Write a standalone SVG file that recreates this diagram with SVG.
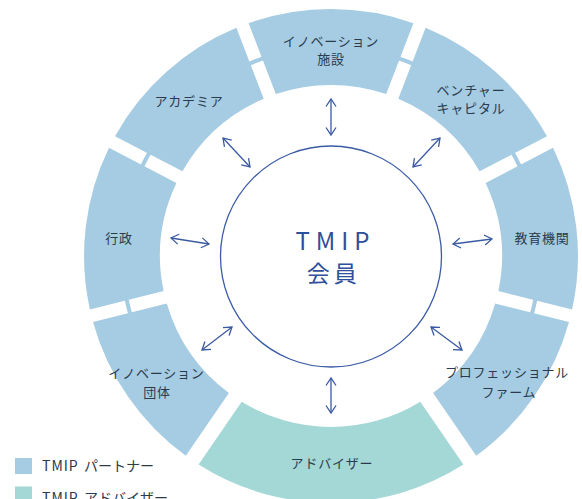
<svg xmlns="http://www.w3.org/2000/svg" width="582" height="499" viewBox="0 0 582 499">
<style>
.seg{fill:#a5cce2}
.adv{fill:#a3d8d7}
.lbl{font-family:"Noto Sans CJK JP","Noto Sans",sans-serif;font-size:13px;fill:#2b3a4c;text-anchor:middle;letter-spacing:0.8px}
.ctr{font-family:"Noto Sans CJK JP","Noto Sans",sans-serif;fill:#2f4f9c;text-anchor:middle}
.arr{fill:none;stroke:#3b5aa3;stroke-width:1.3;marker-start:url(#ah);marker-end:url(#ah)}
.leg{font-family:"Noto Sans CJK JP","Noto Sans",sans-serif;font-size:14px;fill:#2b3a4c}
</style>
<defs>
<marker id="ah" viewBox="0 0 10 10" refX="7.5" refY="5" markerWidth="10" markerHeight="10" markerUnits="userSpaceOnUse" orient="auto-start-reverse" overflow="visible">
<path d="M0,0 L7.5,5 L0,10" fill="none" stroke="#3b5aa3" stroke-width="1.3"/>
</marker>
</defs>
<rect width="582" height="499" fill="#ffffff"/>
<g id="ring-link">
<path d="M159.8 375.9 A209 209 0 1 1 502.2 375.9" fill="none" stroke="#a5cce2" stroke-width="4"/>
</g>
<g id="node-shisetsu">
<path class="seg" d="M248.6 23.2 A247 247 0 0 1 413.4 23.2 L386.2 94.1 A171 171 0 0 0 275.8 94.1 Z"/>
<text class="lbl" x="331" y="45.8">イノベーション</text>
<text class="lbl" x="331" y="64.2">施設</text>
</g>
<g id="node-venture">
<path class="seg" d="M425.6 27.8 A247 247 0 0 1 547.0 136.2 L479.6 171.3 A171 171 0 0 0 398.3 98.8 Z"/>
<text class="lbl" x="471" y="95">ベンチャー</text>
<text class="lbl" x="471" y="112.5">キャピタル</text>
</g>
<g id="node-kyoiku">
<path class="seg" d="M553.0 147.7 A247 247 0 0 1 572.1 309.4 L498.4 291.0 A171 171 0 0 0 485.6 182.9 Z"/>
<text class="lbl" x="542" y="242.5">教育機関</text>
</g>
<g id="node-professional">
<path class="seg" d="M569.0 322.0 A247 247 0 0 1 476.2 455.8 L433.1 393.1 A171 171 0 0 0 495.2 303.6 Z"/>
<text class="lbl" x="507" y="377">プロフェッショナル</text>
<text class="lbl" x="509" y="396.7">ファーム</text>
</g>
<g id="node-advisor">
<path class="adv" d="M463.4 464.5 A247 247 0 0 1 198.6 464.5 L241.7 401.8 A171 171 0 0 0 420.3 401.8 Z"/>
<text class="lbl" x="332" y="468.3">アドバイザー</text>
</g>
<g id="node-dantai">
<path class="seg" d="M185.8 455.8 A247 247 0 0 1 93.0 322.0 L166.8 303.6 A171 171 0 0 0 228.9 393.1 Z"/>
<text class="lbl" x="156.5" y="378">イノベーション</text>
<text class="lbl" x="157" y="396.7">団体</text>
</g>
<g id="node-gyosei">
<path class="seg" d="M89.9 309.4 A247 247 0 0 1 109.0 147.7 L176.4 182.9 A171 171 0 0 0 163.6 291.0 Z"/>
<text class="lbl" x="119" y="242.5">行政</text>
</g>
<g id="node-academia">
<path class="seg" d="M115.0 136.2 A247 247 0 0 1 236.4 27.8 L263.7 98.8 A171 171 0 0 0 182.4 171.3 Z"/>
<text class="lbl" x="189" y="106">アカデミア</text>
</g>
<g id="node-center">
<circle cx="331" cy="256.5" r="110.5" fill="#ffffff" stroke="#3b5ba5" stroke-width="1.3"/>
<text class="ctr" x="335.5" y="249.5" font-size="24" letter-spacing="6">TMIP</text>
<text class="ctr" x="333.7" y="282" font-size="23" letter-spacing="4">会員</text>
</g>
<g id="connectors">
<path class="arr" d="M331 99 L331 135"/>
<path class="arr" d="M331 378 L331 413"/>
<path class="arr" d="M171 238 L209 244"/>
<path class="arr" d="M492 239 L453 244"/>
<path class="arr" d="M223 138 L250 167"/>
<path class="arr" d="M440 138 L413 167"/>
<path class="arr" d="M202 350 L232 327"/>
<path class="arr" d="M462 350 L431 327"/>
</g>
<g id="legend">
<rect x="15" y="458" width="17" height="16" class="seg"/>
<text class="leg" x="42" y="471"><tspan letter-spacing="1">TMIP</tspan><tspan x="84">パートナー</tspan></text>
<rect x="15" y="486.5" width="17" height="16" class="adv"/>
<text class="leg" x="42" y="503"><tspan letter-spacing="1">TMIP</tspan><tspan x="84">アドバイザー</tspan></text>
</g>
</svg>
